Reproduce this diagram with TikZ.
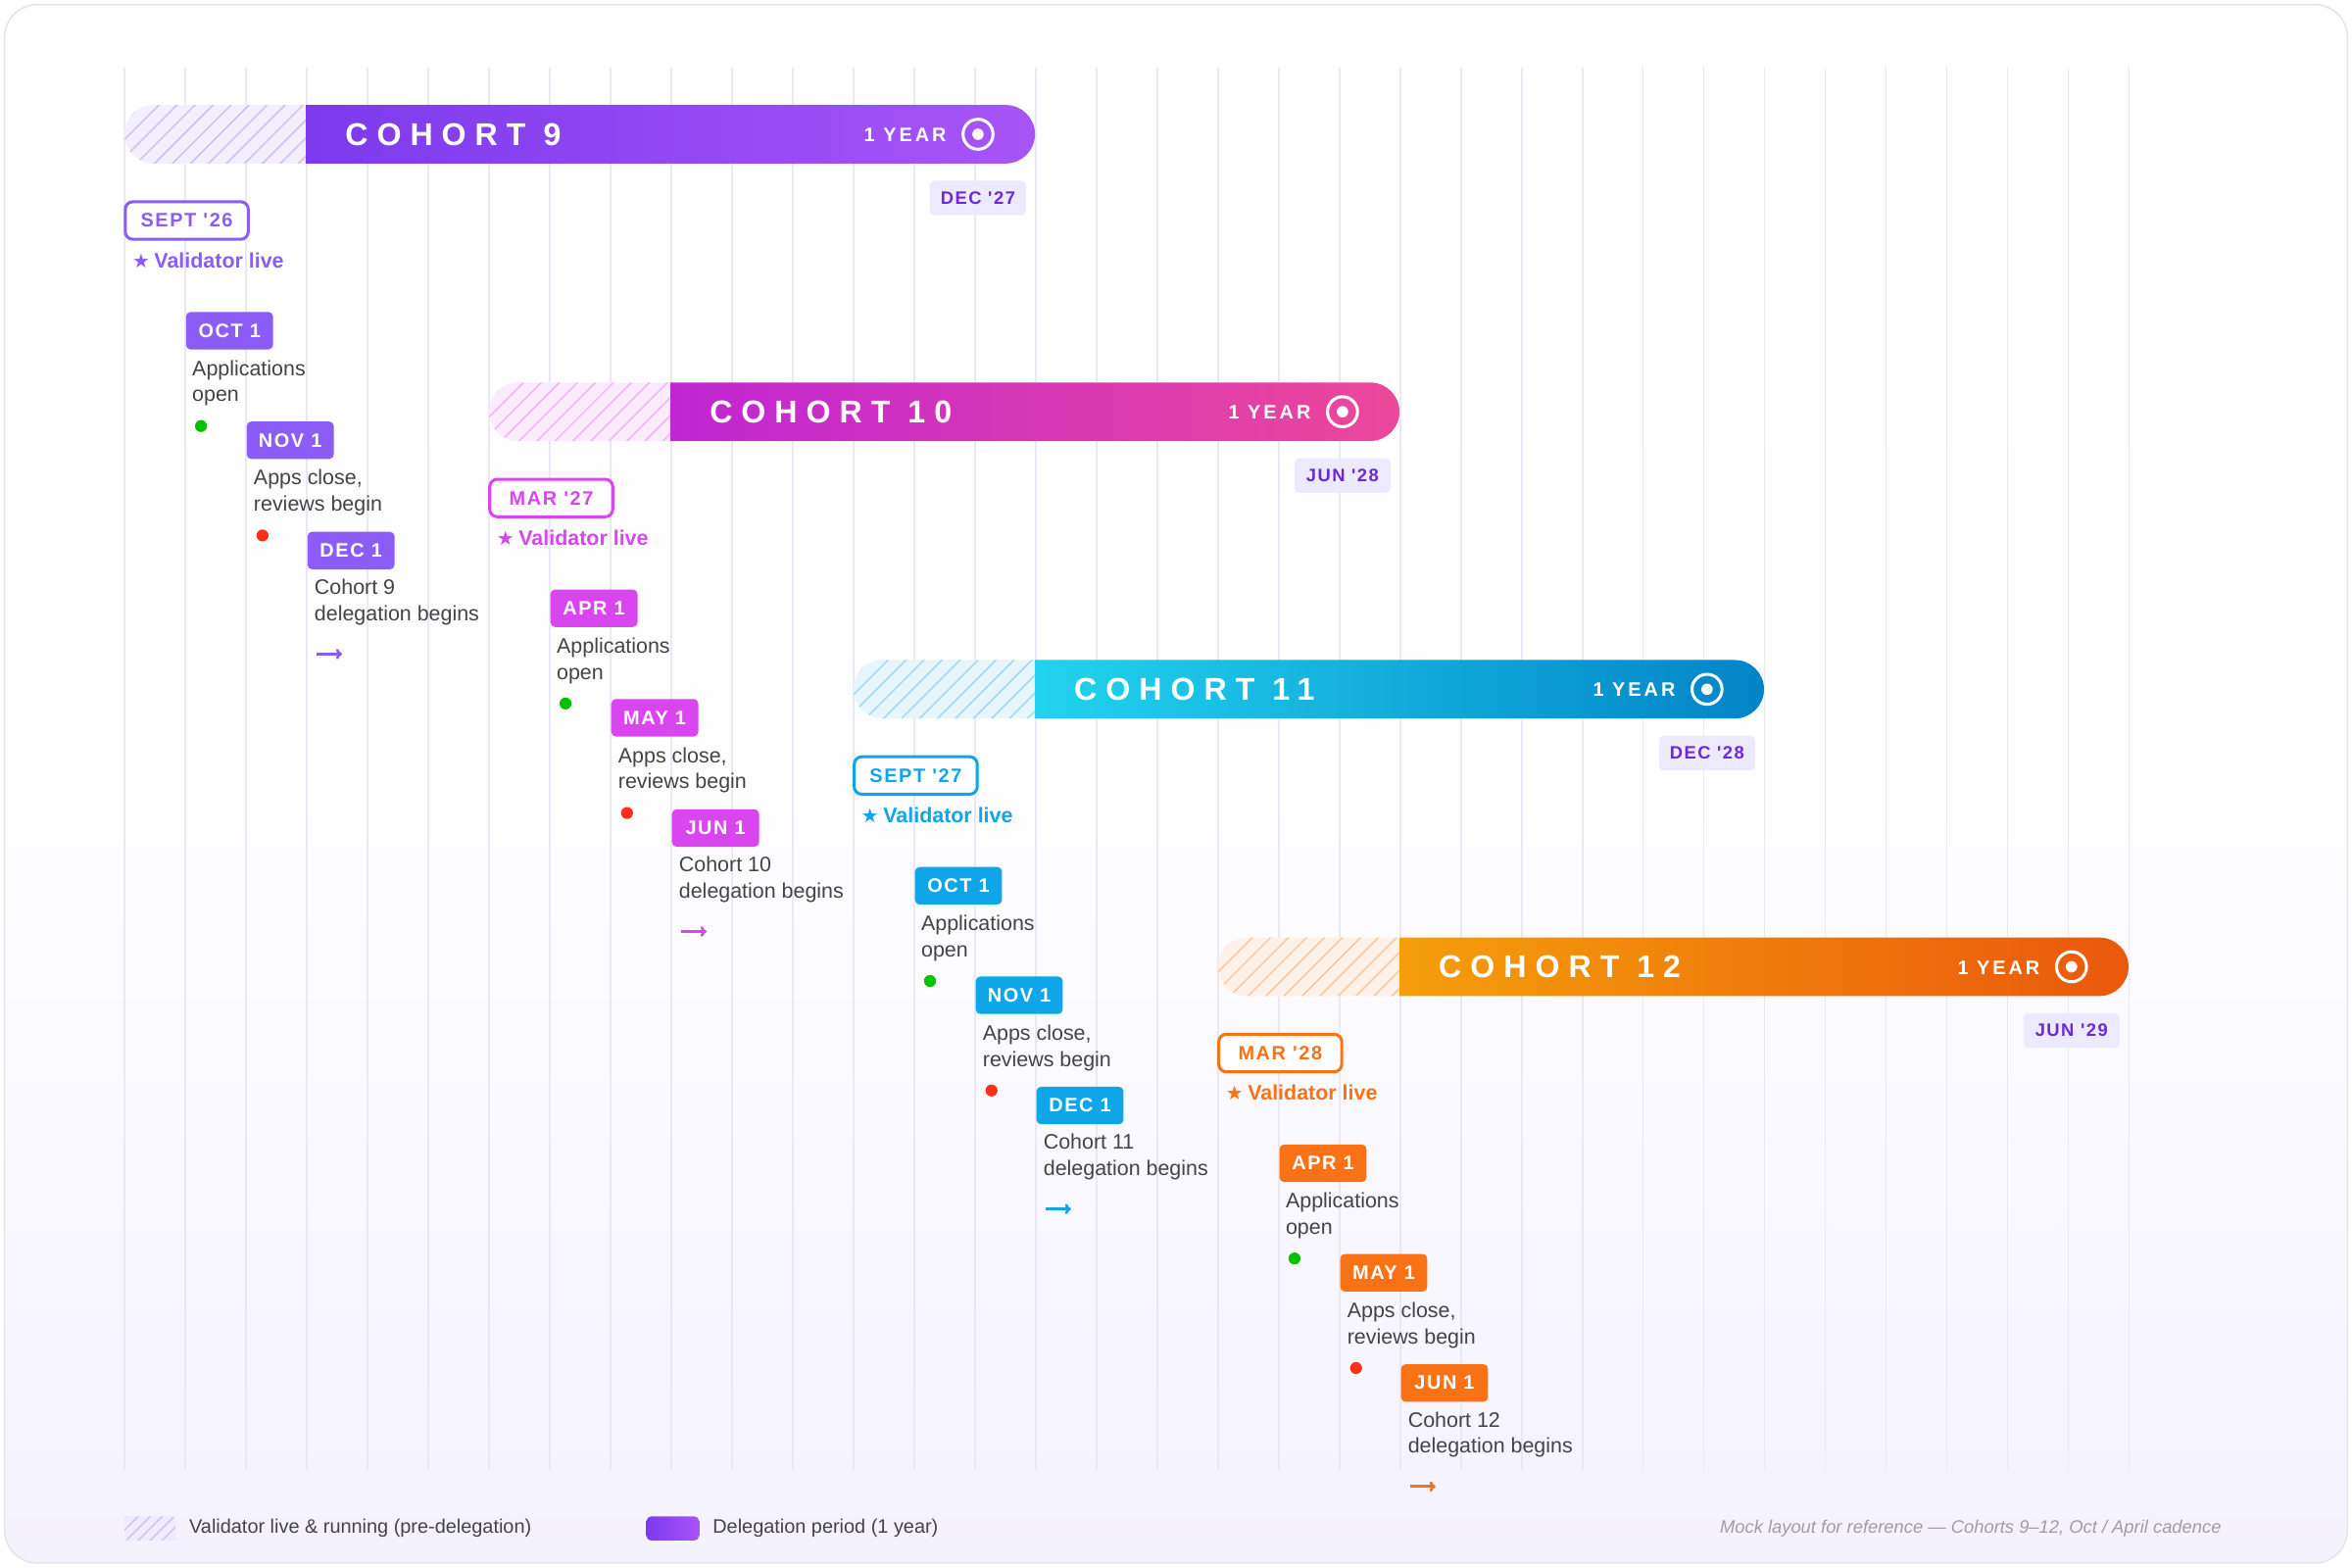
\documentclass[tikz,border=0pt]{standalone}
\usepackage{fontspec}
\setmainfont{Liberation Sans}
\newfontfamily\dejavu{DejaVu Sans}
\newfontfamily\widefont[LetterSpace=28]{Liberation Sans}
\newfontfamily\tagfont[LetterSpace=8]{Liberation Sans}
\newfontfamily\yearfont[LetterSpace=15]{Liberation Sans}
\usetikzlibrary{arrows.meta}
\definecolor{grid}{HTML}{EBE7F5}
\definecolor{txt}{HTML}{444444}
\definecolor{endfill}{HTML}{EDE9FE}
\definecolor{endtxt}{HTML}{6D28D9}
\definecolor{ga}{HTML}{7C3AED}\definecolor{gb}{HTML}{A855F7}\definecolor{gt}{HTML}{8B5CF6}
\definecolor{ma}{HTML}{C026D3}\definecolor{mb}{HTML}{EC4899}\definecolor{mt}{HTML}{D946EF}
\definecolor{ca}{HTML}{22D3EE}\definecolor{cb}{HTML}{0284C7}\definecolor{ct}{HTML}{0EA5E9}
\definecolor{oa}{HTML}{F59E0B}\definecolor{ob}{HTML}{EA580C}\definecolor{ot}{HTML}{F97316}
\tikzset{
 x=1pt,y=1pt,
 filltag/.style={fill=#1,rounded corners=3pt,minimum width=58pt,minimum height=25pt,inner sep=0pt,text=white,font=\tagfont\bfseries\fontsize{13}{13}\selectfont},
 outtag/.style={draw=#1,line width=2pt,fill=white,rounded corners=5pt,minimum width=82pt,minimum height=25pt,inner sep=0pt,text=#1,font=\tagfont\bfseries\fontsize{13}{13}\selectfont},
 endtag/.style={fill=endfill,rounded corners=3pt,minimum width=64pt,minimum height=23pt,inner sep=0pt,text=endtxt,font=\tagfont\bfseries\fontsize{12}{12}\selectfont},
 body/.style={anchor=north west,inner sep=0pt,text=txt,align=left,font=\fontsize{14}{17.5}\selectfont},
 dot/.style={circle,fill=#1,minimum size=8pt,inner sep=0pt},
}
\newcommand\cohortrow[7]{%
\begin{scope}[shift={(243*#1,-185*#1)}]
 \begin{scope}
  \clip (102.5,-70) -- (204,-70) -- (204,-109) -- (102.5,-109) arc (270:90:19.5) -- cycle;
  \fill[#4!10] (60,-60) rectangle (210,-120);
  \foreach \i in {0,12,...,180}{\draw[#4!40,line width=1pt] (40+\i,-112) -- ++(45,45);}
 \end{scope}
 \shade[left color=#2,right color=#3] (204,-70) -- (670.5,-70) arc (90:-90:19.5) -- (204,-109) -- cycle;
 \node[anchor=west,inner sep=0pt,text=white,font=\widefont\bfseries\fontsize{21}{21}\selectfont] (name#1) at (230,-89.5) {COHORT #5};
 \node[anchor=east,inner sep=0pt,text=white,font=\yearfont\bfseries\fontsize{13}{13}\selectfont] (yr#1) at (631,-90) {1 YEAR};
 \draw[white,line width=2pt] (652,-89.5) circle (10);
 \fill[white] (652,-89.5) circle (3.8);
 \node[endtag] (end#1) at (652,-132) {#6};
 \node[outtag=#4] (start#1) at (124.5,-147) {#7};
 \node[anchor=west,inner sep=0pt,text=#4,font=\bfseries\fontsize{14}{14}\selectfont] (vl#1) at (88,-173.5) {{\dejavu\fontsize{13}{13}\selectfont ★}\hspace{3pt}Validator live};
 \node[filltag=#4] (t1#1) at (153,-220.5) {\mA};
 \node[body] (b1#1) at (128,-240) {Applications\\open};
 \node[dot=green!70!black!80!green] (g#1) at (134,-284) {};
 \node[filltag=#4] (t2#1) at (193.5,-293.5) {\mB};
 \node[body] (b2#1) at (169,-313) {Apps close,\\reviews begin};
 \node[dot=red!80!orange!90!white] (r#1) at (175,-357) {};
 \node[filltag=#4] (t3#1) at (234,-367) {\mC};
 \node[body] (b3#1) at (209.5,-386) {Cohort #5\\delegation begins};
 \coordinate (a1#1) at (211,-436);
 \coordinate (a2#1) at (228,-436);
 \draw[#4,line width=1.8pt,-{To[length=4pt,width=7pt]}] (a1#1) -- (a2#1);
\end{scope}}
\begin{document}
\begin{tikzpicture}
\useasboundingbox (0,0) rectangle (1568,-1045);
\shade[rounded corners=22pt,top color=white,bottom color=endfill!60,middle color=white!96!endfill] (3,-3) rectangle (1565,-1042);
\draw[rounded corners=22pt,draw=gray!20,line width=1pt] (3,-3) rectangle (1565,-1042);
\foreach \k in {0,...,33}{\draw[grid,line width=0.9pt] (83+40.5*\k,-45) -- (83+40.5*\k,-980);}
\def\mA{OCT 1}\def\mB{NOV 1}\def\mC{DEC 1}
\cohortrow{0}{ga}{gb}{gt}{9}{DEC '27}{SEPT '26}
\def\mA{APR 1}\def\mB{MAY 1}\def\mC{JUN 1}
\cohortrow{1}{ma}{mb}{mt}{10}{JUN '28}{MAR '27}
\def\mA{OCT 1}\def\mB{NOV 1}\def\mC{DEC 1}
\cohortrow{2}{ca}{cb}{ct}{11}{DEC '28}{SEPT '27}
\def\mA{APR 1}\def\mB{MAY 1}\def\mC{JUN 1}
\cohortrow{3}{oa}{ob}{ot}{12}{JUN '29}{MAR '28}
% legend
\begin{scope}
 \clip[rounded corners=2pt] (83,-1011) rectangle (117,-1027);
 \fill[gt!12] (83,-1011) rectangle (117,-1027);
 \foreach \i in {0,8,...,60}{\draw[gt!40,line width=0.9pt] (65+\i,-1030) -- ++(22,22);}
\end{scope}
\node[anchor=west,inner sep=0pt,text=txt,font=\fontsize{13}{13}\selectfont] (leg1) at (126,-1019) {Validator live \& running (pre-delegation)};
\shade[left color=ga,right color=gb,rounded corners=3pt] (431,-1011) rectangle (466,-1027);
\node[anchor=west,inner sep=0pt,text=txt,font=\fontsize{13}{13}\selectfont] (leg2) at (475,-1019) {Delegation period (1 year)};
\node[anchor=east,inner sep=0pt,text=gray!75,font=\itshape\fontsize{12}{12}\selectfont] (note) at (1481,-1019) {Mock layout for reference — Cohorts 9–12, Oct / April cadence};
\end{tikzpicture}
\end{document}
